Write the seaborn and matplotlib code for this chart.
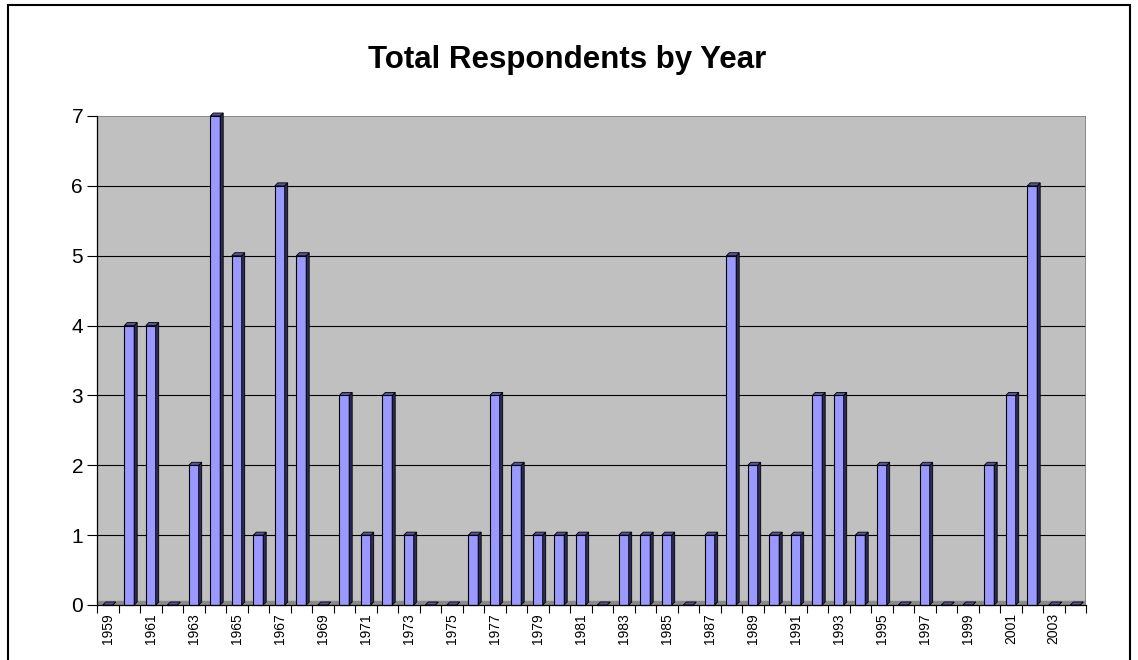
import matplotlib
matplotlib.use("Agg")
import matplotlib.pyplot as plt
import seaborn as sns
import numpy as np
import pandas as pd
from matplotlib.patches import Polygon, Rectangle

years = [str(y) for y in range(1959, 2005)]
respondents = [0, 4, 4, 0, 2, 7, 5, 1, 6, 5,
               0, 3, 1, 3, 1, 0, 0, 1, 3, 2,
               1, 1, 1, 0, 1, 1, 1, 0, 1, 5,
               2, 1, 1, 3, 3, 1, 2, 0, 2, 0,
               0, 2, 3, 6, 0, 0]
tick_labels = [y if (int(y) % 2 == 1) else "" for y in years]
y_ticks = [0, 1, 2, 3, 4, 5, 6, 7]
title = "Total Respondents by Year"

sns.set_style("white")
plt.rcParams['font.family'] = ['Liberation Sans', 'DejaVu Sans']
plt.rcParams['text.color'] = 'black'
plt.rcParams['xtick.color'] = 'black'
plt.rcParams['ytick.color'] = 'black'
plt.rcParams['axes.labelcolor'] = 'black'

fig = plt.figure(figsize=(11.38, 6.6), dpi=100)
ax = fig.add_axes([97/1138, 1-605/660, (1086-97)/1138, (605-116)/660])
ax.set_facecolor("#C0C0C0")

df = pd.DataFrame({"year": years, "n": respondents})
sns.barplot(data=df, x="year", y="n", order=years, color="#9999FF", saturation=1,
            width=0.46, edgecolor="black", linewidth=0.8, ax=ax, zorder=3)

ax.set_xlim(-0.5, len(years) - 0.5)
ax.set_ylim(0, 7)

# 3D-like side and top faces derived from the drawn bars
px_x = (len(years)) / 989.0
px_y = 7.0 / 489.0
dx = 3 * px_x
dy = 3 * px_y
for p in list(ax.patches):
    p.set_clip_on(False)
    x0 = p.get_x()
    w = p.get_width()
    h = p.get_height()
    x1 = x0 + w
    side = Polygon([(x1, 0), (x1 + dx, dy), (x1 + dx, h + dy), (x1, h)],
                   closed=True, facecolor="#2B2B55", edgecolor="black", lw=0.6,
                   zorder=3, clip_on=False)
    top = Polygon([(x0, h), (x0 + dx, h + dy), (x1 + dx, h + dy), (x1, h)],
                  closed=True, facecolor="#55559A", edgecolor="black", lw=0.6,
                  zorder=3, clip_on=False)
    ax.add_patch(side)
    ax.add_patch(top)

# floor band
ax.axhspan(0, dy * 1.3, color="#8A8A8A", zorder=1)

# gridlines
for v in y_ticks[1:-1]:
    ax.axhline(v, color="black", lw=0.8, zorder=2)
ax.axhline(7, color="#808080", lw=1.2, zorder=2)
ax.axvline(len(years) - 0.5, color="#808080", lw=1.2, zorder=2)

ax.set_yticks(y_ticks)
ax.set_yticklabels([str(v) for v in y_ticks], fontsize=15)
ax.set_xticks(range(len(years)))
ax.set_xticklabels(tick_labels, rotation=90, fontsize=10)
ax.set_xticks(np.arange(-0.5, len(years), 1.0), minor=True)
ax.tick_params(axis="x", which="major", bottom=True, length=0, pad=6)
ax.tick_params(axis="x", which="minor", bottom=True, length=6, width=0.8,
               color="black", direction="out")
ax.tick_params(axis="y", which="major", left=True, length=7, width=0.8,
               color="black", direction="out", pad=3)
ax.set_xlabel("")
ax.set_ylabel("")

for s in ["top", "right"]:
    ax.spines[s].set_visible(False)
for s in ["left", "bottom"]:
    ax.spines[s].set_color("black")
    ax.spines[s].set_linewidth(0.9)
    ax.spines[s].set_zorder(4)

fig.text(567/1138, 1-60/660, title, ha="center", va="center", fontsize=22.5,
         fontweight="bold", color="black")

frame = Rectangle((8/1138, -0.2), (1130-8)/1138, 1.2 - 5/660, transform=fig.transFigure,
                  fill=False, edgecolor="black", lw=1.5)
fig.patches.append(frame)

fig.savefig("out.png", dpi=100)
